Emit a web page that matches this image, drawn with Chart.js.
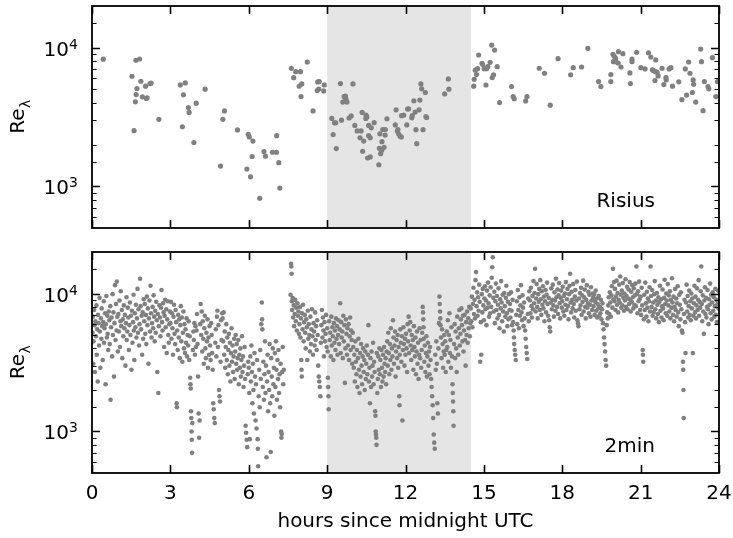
<!DOCTYPE html>
<html lang="en">
<head>
    <meta charset="UTF-8">
    <title>Re_lambda over the day</title>
    <script src="https://cdn.jsdelivr.net/npm/chart.js"></script>
    <style>
        body {
            margin: 0;
            background: #fff;
        }
        .panel {
            position: absolute;
            left: 0;
        }
        #topPanel { top: 0; }
        #bottomPanel { top: 240px; }
    </style>
</head>
<body>
    <div class="panel" id="topPanel"><canvas id="risiusChart" width="733" height="240"></canvas></div>
    <div class="panel" id="bottomPanel"><canvas id="twoMinChart" width="733" height="298"></canvas></div>

    <script>
        // [hour, Re_lambda] (Risius)
        const risiusPoints = [
            [0.43, 8260], [1.68, 8110], [1.82, 8290], [1.53, 6220], [1.87, 5730], [1.72, 5070], [2.05, 5280],
            [2.22, 5510], [2.26, 5550], [1.69, 4590], [1.93, 4420], [2.08, 4300], [2.11, 4350], [1.66, 4070],
            [2.56, 3040], [1.61, 2520], [3.38, 5390], [3.57, 5570], [3.50, 4570], [4.33, 5020], [3.69, 3700],
            [3.72, 3410], [3.99, 3980], [3.46, 2690], [3.90, 2070], [5.07, 3500], [5.01, 3040], [4.92, 1400],
            [5.57, 2550], [5.98, 2370], [6.02, 2270], [6.16, 2120], [6.13, 1640], [5.93, 1330], [6.07, 1170],
            [6.42, 820], [6.58, 1780], [6.64, 1650], [6.91, 1760], [7.06, 1760], [7.07, 2320], [7.15, 1480],
            [7.19, 970], [7.63, 7100], [7.72, 6080], [7.80, 6720], [7.98, 6720], [8.24, 7890], [7.93, 5280],
            [8.03, 5480], [8.00, 4440], [8.46, 3500], [8.64, 5660], [8.70, 5700], [8.89, 5390], [8.62, 4910],
            [8.68, 5030], [8.87, 4880],
            [9.51, 5510], [9.99, 5480], [9.65, 4440], [9.70, 4480], [9.72, 4250], [9.60, 4050], [9.76, 4050],
            [9.18, 3090], [9.28, 2870], [9.33, 2870], [9.55, 3000], [9.84, 3110], [9.92, 3220], [9.23, 2360],
            [9.35, 1870], [10.06, 2750], [10.15, 2510], [10.30, 2510], [10.34, 3410], [10.49, 3260], [10.48, 3090],
            [10.52, 3160], [10.59, 2750], [10.69, 2640], [10.80, 2880], [10.26, 2240], [10.40, 2120], [10.59, 2320],
            [10.65, 2240], [10.36, 1790], [10.55, 1600], [10.65, 1630], [10.98, 1430], [11.02, 2390], [11.22, 2340],
            [11.13, 2570], [11.23, 2570], [11.29, 3070], [11.64, 3560], [11.61, 2770], [11.10, 2100], [11.00, 1880],
            [11.09, 1820], [11.05, 1720], [11.18, 1910], [11.69, 2500], [11.74, 2380], [11.71, 2560], [11.80, 2290],
            [11.84, 2270], [12.08, 3610], [12.12, 3620], [11.85, 3230], [11.93, 3260], [12.05, 2770], [12.24, 3120],
            [12.26, 3230], [12.32, 4140], [12.37, 3430], [12.52, 3560], [12.55, 4190], [12.40, 2560], [12.67, 2560],
            [12.43, 2030], [12.59, 5480], [12.62, 5050], [12.76, 4750], [12.78, 3180], [12.81, 3130], [13.50, 4640],
            [13.64, 5950], [13.66, 5020],
            [14.61, 5280], [14.63, 5920], [14.72, 6400], [14.67, 6880], [14.76, 7060], [14.80, 8860], [14.93, 7720],
            [14.95, 7590], [15.01, 7060], [15.10, 7060], [15.15, 7300], [15.24, 7850], [15.30, 10450], [15.41, 9620],
            [15.37, 6370], [15.32, 6090], [15.51, 7300], [15.08, 5380], [15.60, 4020], [16.06, 5240], [16.12, 4440],
            [16.16, 4280], [16.60, 4130], [16.65, 4440], [17.12, 7110], [17.32, 6540], [17.54, 3850], [17.84, 8340],
            [18.32, 6370], [18.42, 7180], [18.74, 7260], [18.98, 9900], [19.39, 5700], [19.48, 5240], [19.86, 6400],
            [19.86, 5700], [19.94, 8970], [19.99, 8670], [20.04, 8390], [19.96, 7930], [20.04, 7930], [20.14, 7760],
            [20.15, 9360], [20.32, 9050], [20.25, 7260], [20.59, 6580], [20.61, 5510], [20.67, 8290], [20.67, 7930],
            [20.85, 9260], [21.01, 7180], [21.17, 7030], [21.30, 9200], [21.39, 8570], [21.58, 8160], [21.45, 6920],
            [21.51, 6810], [21.58, 6720], [21.63, 6650], [21.67, 6260], [21.55, 5790], [21.82, 7110], [21.97, 6090],
            [21.98, 5860], [21.89, 5420], [22.09, 7030], [22.16, 7180], [22.22, 5280], [22.46, 5670], [22.58, 4220],
            [22.76, 4550], [22.71, 7030], [22.84, 7890], [22.89, 6540], [23.01, 5860], [23.03, 5450], [22.98, 4750],
            [23.11, 4050], [23.30, 9790], [23.33, 7930], [23.39, 3510], [23.44, 5700], [23.58, 5240], [23.61, 5050],
            [23.75, 8470], [23.88, 4440], [23.94, 5700]
        ];

        // [hour, Re_lambda] (2min), estimated from the point cloud
        const twoMinPoints = [
            [0.02, 5200], [0.03, 6800], [0.05, 3100], [0.06, 4500], [0.08, 7600], [0.1, 5900], [0.11, 2700], [0.13, 6300],
            [0.15, 4900], [0.17, 8200], [0.18, 3600], [0.2, 5500], [0.22, 2300], [0.23, 7000], [0.25, 6100], [0.27, 4200],
            [0.29, 9300], [0.3, 5300], [0.32, 2900], [0.34, 6600], [0.36, 4700], [0.37, 7800], [0.39, 5800], [0.41, 3300],
            [0.43, 6200], [0.45, 8800], [0.46, 4400], [0.48, 5600], [0.5, 7200], [0.52, 2200], [0.53, 6000], [0.55, 9600],
            [0.57, 4800], [0.59, 6900], [0.6, 5100], [0.62, 3900], [0.64, 7400], [0.66, 6400], [0.68, 4300], [0.7, 8100],
            [0.71, 1700], [0.73, 5700], [0.75, 6700], [0.77, 3500], [0.79, 9900], [0.8, 5000], [0.82, 7300], [0.84, 2500],
            [0.86, 6100], [0.88, 11500], [0.9, 4600], [0.92, 8400], [0.94, 5400], [0.95, 12200], [0.97, 6800], [0.99, 3800],
            [1.01, 7100], [1.03, 5300], [1.05, 8900], [1.07, 4100], [1.09, 6300], [1.1, 10400], [1.12, 5800], [1.14, 7600],
            [1.16, 3400], [1.18, 6500], [1.2, 4900], [1.22, 8200], [1.24, 5600], [1.26, 7000], [1.28, 3000], [1.3, 6100],
            [1.32, 9400], [1.33, 4600], [1.35, 5300], [1.37, 7900], [1.39, 6700], [1.41, 3900], [1.43, 5900], [1.45, 8600],
            [1.47, 5000], [1.49, 6900], [1.51, 2800], [1.53, 7500], [1.55, 4400], [1.57, 6200], [1.59, 9800], [1.6, 5400],
            [1.62, 3300], [1.64, 7200], [1.66, 5700], [1.68, 8300], [1.7, 4800], [1.72, 6600], [1.74, 10800], [1.76, 5200],
            [1.78, 7700], [1.8, 4200], [1.82, 6000], [1.84, 12800], [1.86, 8100], [1.88, 5500], [1.9, 6900], [1.92, 3600],
            [1.94, 7300], [1.96, 4700], [1.98, 9100],
            [2.0, 6300], [2.02, 8400], [2.04, 5100], [2.06, 7000], [2.08, 4300], [2.1, 9500], [2.12, 5900], [2.14, 7800],
            [2.16, 3100], [2.18, 6600], [2.2, 8900], [2.22, 5300], [2.24, 11400], [2.26, 7200], [2.28, 4800], [2.3, 6100],
            [2.32, 8000], [2.34, 5600], [2.36, 9700], [2.38, 6800], [2.4, 4500], [2.42, 7500], [2.44, 5200], [2.46, 8700],
            [2.48, 6400], [2.5, 2700], [2.52, 7100], [2.54, 1900], [2.56, 5800], [2.58, 8200], [2.6, 6700], [2.62, 4900],
            [2.64, 7900], [2.66, 10600], [2.68, 6200], [2.7, 5400], [2.72, 8500], [2.74, 7300], [2.76, 4100], [2.78, 6900],
            [2.8, 9000], [2.82, 5700], [2.84, 7700], [2.86, 3700], [2.88, 6500], [2.9, 8800], [2.92, 5000], [2.94, 4400],
            [2.96, 6000], [2.98, 7400],
            [3.0, 6100], [3.02, 8700], [3.04, 4700], [3.06, 7200], [3.08, 5600], [3.1, 3600], [3.12, 6800], [3.14, 8300],
            [3.16, 5100], [3.18, 4300], [3.2, 7600], [3.22, 6200], [3.24, 1600], [3.25, 1500], [3.26, 5400], [3.28, 3900],
            [3.3, 7000], [3.32, 4800], [3.34, 6500], [3.36, 3400], [3.38, 5900], [3.4, 8100], [3.42, 4500], [3.44, 6700],
            [3.46, 3200], [3.48, 5200], [3.5, 7400], [3.52, 4000], [3.54, 6000], [3.56, 3700], [3.58, 5500], [3.6, 4400],
            [3.62, 6600], [3.64, 3500], [3.66, 5000], [3.68, 4200], [3.7, 6300], [3.72, 3300], [3.74, 4900], [3.76, 2450],
            [3.77, 2200], [3.78, 2050], [3.79, 1400], [3.8, 1250], [3.81, 1000], [3.82, 870], [3.83, 700], [3.84, 1150],
            [3.86, 3900], [3.88, 5300], [3.9, 4600], [3.92, 6100], [3.94, 3600], [3.96, 5800], [3.98, 4100],
            [4.0, 5400], [4.02, 7100], [4.04, 4300], [4.06, 2500], [4.08, 1350], [4.1, 900], [4.12, 1200], [4.14, 6000],
            [4.16, 8400], [4.18, 5000], [4.2, 7400], [4.22, 3800], [4.24, 6300], [4.26, 4700], [4.28, 3100], [4.3, 5600],
            [4.32, 6900], [4.34, 4000], [4.36, 3400], [4.38, 5200], [4.4, 4500], [4.42, 6500], [4.44, 2900], [4.46, 4800],
            [4.48, 3600], [4.5, 5800], [4.52, 4200], [4.54, 3300], [4.56, 6100], [4.58, 5000], [4.6, 3700], [4.62, 2800],
            [4.64, 1600], [4.66, 1450], [4.68, 1250], [4.7, 1150], [4.72, 4400], [4.74, 5500], [4.76, 3500], [4.78, 6800],
            [4.8, 7500], [4.82, 4100], [4.84, 5900], [4.86, 2000], [4.88, 1800], [4.9, 1650], [4.92, 3200], [4.94, 6400],
            [4.96, 4600], [4.98, 7200],
            [5.0, 6600], [5.02, 4500], [5.04, 7300], [5.06, 3600], [5.08, 5300], [5.1, 2900], [5.12, 4100], [5.14, 6000],
            [5.16, 3300], [5.18, 4800], [5.2, 2600], [5.22, 3900], [5.24, 5100], [5.26, 3000], [5.28, 4400], [5.3, 2300],
            [5.32, 3700], [5.34, 5600], [5.36, 3200], [5.38, 4200], [5.4, 2700], [5.42, 3500], [5.44, 4700], [5.46, 2400],
            [5.48, 3800], [5.5, 5000], [5.52, 3100], [5.54, 4300], [5.56, 2800], [5.58, 3400], [5.6, 4600], [5.62, 2200],
            [5.64, 3600], [5.66, 2900], [5.68, 4000], [5.7, 2500], [5.72, 3300], [5.74, 4900], [5.76, 2700], [5.78, 3500],
            [5.8, 2100], [5.82, 3000], [5.84, 4100], [5.86, 2400], [5.88, 1100], [5.9, 980], [5.92, 870], [5.94, 770],
            [5.96, 2600], [5.98, 3200],
            [6.0, 2900], [6.02, 1900], [6.04, 880], [6.06, 3500], [6.08, 2300], [6.1, 4200], [6.12, 2700], [6.14, 1600],
            [6.16, 3100], [6.18, 2000], [6.2, 1350], [6.22, 3700], [6.24, 2500], [6.26, 1200], [6.28, 2200], [6.3, 1050],
            [6.32, 3300], [6.34, 880], [6.35, 750], [6.36, 560], [6.38, 1800], [6.4, 2800], [6.42, 1500], [6.44, 3900],
            [6.46, 2400], [6.48, 6000], [6.5, 8600], [6.51, 6500], [6.52, 5500], [6.54, 2100], [6.56, 3200], [6.58, 1700],
            [6.6, 2600], [6.62, 4500], [6.64, 1900], [6.66, 3000], [6.68, 650], [6.7, 2300], [6.72, 3600], [6.74, 1400],
            [6.76, 2700], [6.78, 2000], [6.8, 4300], [6.82, 1600], [6.84, 710], [6.86, 3400], [6.88, 2500], [6.9, 1800],
            [6.92, 4000], [6.94, 2200], [6.96, 2900], [6.98, 1300],
            [7.0, 3700], [7.02, 2100], [7.04, 4500], [7.06, 2800], [7.08, 1700], [7.1, 3300], [7.12, 2400], [7.14, 3900],
            [7.16, 1900], [7.18, 2600], [7.2, 1500], [7.22, 3100], [7.24, 1000], [7.25, 900], [7.26, 960], [7.28, 2700],
            [7.3, 4100], [7.32, 2200], [7.34, 2800],
            [7.6, 9800], [7.62, 16400], [7.63, 15700], [7.64, 13900], [7.65, 8800], [7.66, 7600], [7.68, 9300], [7.7, 6700],
            [7.72, 8200], [7.74, 5800], [7.76, 7100], [7.78, 9000], [7.8, 6300], [7.82, 7900], [7.84, 5400], [7.86, 8500],
            [7.88, 6900], [7.9, 7400], [7.92, 5100], [7.94, 6000], [7.96, 8000], [7.98, 4800], [8.0, 6600], [8.01, 3300],
            [8.02, 2800], [8.03, 2500], [8.04, 7200], [8.06, 5500], [8.08, 8300], [8.1, 4500], [8.12, 6200], [8.14, 7000],
            [8.16, 5200], [8.18, 4000], [8.2, 6500], [8.22, 5700], [8.24, 3300], [8.26, 7500], [8.28, 4700], [8.3, 6000],
            [8.32, 5000], [8.34, 3800], [8.36, 6800], [8.38, 4300], [8.4, 5500], [8.42, 7700], [8.44, 4900], [8.46, 3600],
            [8.48, 6100], [8.5, 5300], [8.52, 4200], [8.54, 7300], [8.56, 4600], [8.58, 5800], [8.6, 3900], [8.62, 6400],
            [8.64, 5000], [8.66, 3000], [8.68, 2500], [8.7, 2300], [8.72, 2100], [8.74, 1800], [8.76, 4400], [8.78, 5900],
            [8.8, 7600], [8.82, 4800], [8.84, 6700], [8.86, 5400], [8.88, 3500], [8.9, 6200], [8.92, 4500], [8.94, 5100],
            [8.96, 7000], [8.98, 4100],
            [9.0, 5600], [9.02, 3800], [9.03, 2450], [9.04, 2100], [9.05, 1800], [9.06, 1450], [9.08, 6300], [9.1, 4600],
            [9.12, 5200], [9.14, 3500], [9.16, 6800], [9.18, 4200], [9.2, 5700], [9.22, 4900], [9.24, 3300], [9.26, 6100],
            [9.28, 4400], [9.3, 5400], [9.32, 3900], [9.34, 6600], [9.36, 4700], [9.38, 5800], [9.4, 3600], [9.42, 5000],
            [9.44, 6400], [9.46, 4300], [9.48, 5500], [9.5, 8500], [9.52, 3700], [9.54, 6200], [9.56, 4800], [9.58, 5300],
            [9.6, 3400], [9.62, 6900], [9.64, 4500], [9.66, 5900], [9.68, 2250], [9.7, 4000], [9.72, 6500], [9.74, 5100],
            [9.76, 3600], [9.78, 5600], [9.8, 4200], [9.82, 6000], [9.84, 3300], [9.86, 4900], [9.88, 6700], [9.9, 3900],
            [9.92, 5400], [9.94, 4600], [9.96, 3100], [9.98, 5200],
            [10.0, 4100], [10.02, 2900], [10.04, 3600], [10.06, 2300], [10.08, 4500], [10.1, 3200], [10.12, 2600], [10.14, 3900],
            [10.16, 2100], [10.18, 3400], [10.2, 4700], [10.22, 2800], [10.24, 1900], [10.26, 3700], [10.28, 2500], [10.3, 4300],
            [10.32, 3000], [10.34, 2200], [10.36, 3500], [10.38, 4000], [10.4, 2700], [10.42, 3300], [10.44, 2000], [10.46, 3800],
            [10.48, 2400], [10.5, 3100], [10.52, 4200], [10.54, 2600], [10.56, 3600], [10.58, 5900], [10.6, 2300], [10.62, 2900],
            [10.64, 1600], [10.66, 3400], [10.68, 2100], [10.7, 3800], [10.72, 2500], [10.74, 3000], [10.76, 4400], [10.78, 2200],
            [10.8, 3200], [10.82, 2700], [10.84, 1400], [10.85, 1300], [10.86, 1000], [10.87, 950], [10.88, 900], [10.89, 800],
            [10.9, 3700], [10.92, 1900], [10.94, 2400], [10.96, 3500], [10.98, 2800], [11.0, 4000], [11.02, 2600], [11.04, 3300],
            [11.06, 2100], [11.08, 3900], [11.1, 2900], [11.12, 2300], [11.14, 3600], [11.16, 2500], [11.18, 4100], [11.2, 3100],
            [11.22, 2700], [11.24, 3400], [11.26, 2200], [11.28, 3800],
            [11.3, 4500], [11.32, 3000], [11.34, 5200], [11.36, 3700], [11.38, 2600], [11.4, 4300], [11.42, 3300], [11.44, 5600],
            [11.46, 2800], [11.48, 4000], [11.5, 3500], [11.52, 6400], [11.54, 4800], [11.56, 3100], [11.58, 4200], [11.6, 5300],
            [11.62, 2500], [11.64, 3800], [11.66, 4600], [11.68, 3400], [11.7, 5000], [11.72, 2900], [11.74, 4100], [11.76, 1800],
            [11.77, 1550], [11.78, 3600], [11.8, 5500], [11.82, 4400], [11.84, 3200], [11.86, 4900], [11.88, 1200], [11.9, 3900],
            [11.92, 5700], [11.94, 4300], [11.96, 3000], [11.98, 4700], [12.0, 3600], [12.02, 5100], [12.04, 4000], [12.06, 2700],
            [12.08, 6000], [12.1, 4500], [12.12, 6800], [12.14, 3700], [12.16, 5400], [12.18, 6200], [12.2, 4200], [12.22, 3300],
            [12.24, 5000], [12.26, 3900], [12.28, 4600], [12.3, 2800], [12.32, 5800], [12.34, 4100], [12.36, 3500], [12.38, 4800],
            [12.4, 2600], [12.42, 3800], [12.44, 5300], [12.46, 3100], [12.48, 4400], [12.5, 2400], [12.52, 3600], [12.54, 5600],
            [12.56, 3400], [12.58, 4600], [12.6, 2900], [12.62, 3900], [12.64, 5200], [12.66, 8000], [12.67, 7300], [12.68, 6500],
            [12.69, 5700], [12.7, 4700], [12.72, 3200], [12.74, 4200], [12.76, 2700], [12.78, 3700], [12.8, 4900], [12.82, 2500],
            [12.84, 3500], [12.86, 4400], [12.88, 3000], [12.9, 3800], [12.92, 2600], [12.94, 4100], [12.96, 3300], [12.98, 2400],
            [13.0, 2100], [13.02, 1800], [13.04, 1550], [13.06, 1250], [13.08, 950], [13.1, 830], [13.12, 750], [13.14, 3600],
            [13.16, 2800], [13.18, 4500], [13.2, 3100], [13.22, 1600], [13.24, 1350], [13.26, 4000], [13.28, 6100], [13.3, 9500],
            [13.31, 8400], [13.32, 7400], [13.33, 6600], [13.34, 5900], [13.36, 4800], [13.38, 3400], [13.4, 5500], [13.42, 4300],
            [13.44, 2900], [13.46, 3800], [13.48, 5000], [13.5, 3600], [13.52, 4500], [13.54, 2700], [13.56, 3900], [13.58, 5300],
            [13.6, 4100], [13.62, 6400], [13.64, 3200], [13.66, 5000], [13.68, 7200], [13.7, 3700], [13.72, 4600], [13.74, 2900],
            [13.76, 5700], [13.78, 3500], [13.8, 2200], [13.81, 1900], [13.82, 1650], [13.83, 1400], [13.84, 1100], [13.86, 4300],
            [13.88, 6000], [13.9, 3400], [13.92, 5300], [13.94, 4000], [13.96, 2700], [13.98, 6800], [14.0, 4800], [14.02, 3600],
            [14.04, 5600], [14.06, 7600], [14.08, 4200], [14.1, 5100], [14.12, 6500], [14.14, 7800], [14.16, 5900], [14.18, 4500],
            [14.2, 6900], [14.22, 3800], [14.24, 5400], [14.26, 7000], [14.28, 4600], [14.3, 3000], [14.32, 6200], [14.34, 5000],
            [14.36, 7400], [14.38, 4400], [14.4, 6600], [14.42, 5600], [14.44, 8000], [14.46, 4900], [14.48, 6100],
            [14.5, 7800], [14.52, 6300], [14.54, 9500], [14.56, 5700], [14.58, 8400], [14.6, 11000], [14.62, 7100], [14.64, 9000],
            [14.66, 6600], [14.68, 12500], [14.7, 14300], [14.72, 8100], [14.74, 10200], [14.76, 6900], [14.78, 9400], [14.8, 7500],
            [14.82, 11600], [14.84, 8700], [14.86, 3200], [14.88, 6200], [14.9, 3600], [14.92, 9900], [14.94, 7300], [14.96, 10800],
            [14.98, 8200], [15.0, 6400], [15.02, 9200], [15.04, 11300], [15.06, 7700], [15.08, 8900], [15.1, 5900], [15.12, 10500],
            [15.14, 7900], [15.16, 12000], [15.18, 8500], [15.2, 6800], [15.22, 9700], [15.24, 7200], [15.26, 11100], [15.28, 8000],
            [15.3, 13000], [15.32, 15500], [15.34, 18300], [15.36, 9300], [15.38, 7400], [15.4, 10300], [15.42, 6100], [15.44, 8800],
            [15.46, 11800], [15.48, 7600], [15.5, 9600], [15.52, 6600], [15.54, 8300], [15.56, 10900], [15.58, 7000], [15.6, 5600],
            [15.62, 9100], [15.64, 7800], [15.66, 12300], [15.68, 8600], [15.7, 6300], [15.72, 9800], [15.74, 7400], [15.76, 5300],
            [15.78, 10100], [15.8, 8100], [15.82, 6800], [15.84, 9300], [15.86, 11400], [15.88, 7200], [15.9, 5800], [15.92, 8700],
            [15.94, 6500], [15.96, 9900], [15.98, 7600],
            [16.0, 8400], [16.02, 6700], [16.04, 10200], [16.06, 7500], [16.08, 5900], [16.1, 9000], [16.12, 6200], [16.14, 5400],
            [16.15, 4800], [16.16, 4300], [16.18, 3900], [16.2, 3600], [16.22, 3300], [16.24, 7000], [16.26, 8800], [16.28, 6000],
            [16.3, 10600], [16.32, 7600], [16.34, 5600], [16.36, 9400], [16.38, 6900], [16.4, 8200], [16.42, 11500], [16.44, 7300],
            [16.46, 6400], [16.48, 9700], [16.5, 7900], [16.52, 5800], [16.54, 8600], [16.56, 6600], [16.58, 5400], [16.6, 4700],
            [16.62, 4100], [16.64, 3700], [16.66, 3350], [16.68, 7100], [16.7, 9200], [16.72, 6300], [16.74, 10400],
            [16.76, 8900], [16.78, 7200], [16.8, 11000], [16.82, 8100], [16.84, 6700], [16.86, 9600], [16.88, 7700], [16.9, 12300],
            [16.92, 8500], [16.94, 10100], [16.96, 15100], [16.98, 7400], [17.0, 9200], [17.02, 11700], [17.04, 8000], [17.06, 6600],
            [17.08, 9900], [17.1, 8700], [17.12, 10800], [17.14, 7600], [17.16, 12500], [17.18, 9100], [17.2, 7000], [17.22, 10400],
            [17.24, 8300], [17.26, 11300], [17.28, 7800], [17.3, 9500], [17.32, 6300], [17.34, 8800], [17.36, 10600], [17.38, 7300],
            [17.4, 9800], [17.42, 12000], [17.44, 8400], [17.46, 6900], [17.48, 9300], [17.5, 6400], [17.52, 5700], [17.54, 5300],
            [17.56, 8600], [17.58, 10900], [17.6, 7700], [17.62, 9000], [17.64, 11600], [17.66, 8200], [17.68, 6800], [17.7, 10200],
            [17.72, 8900], [17.74, 7500], [17.76, 12800], [17.78, 9400], [17.8, 8000], [17.82, 10700], [17.84, 7100], [17.86, 9700],
            [17.88, 11900], [17.9, 8500], [17.92, 6600], [17.94, 9300], [17.96, 10500], [17.98, 7900], [18.0, 8800], [18.02, 11200],
            [18.04, 7400], [18.06, 9600], [18.08, 6900], [18.1, 10000], [18.12, 8300], [18.14, 12100], [18.16, 7600], [18.18, 9100],
            [18.2, 10800], [18.22, 8100], [18.24, 6500], [18.26, 9900], [18.28, 11400], [18.3, 13900], [18.32, 8600], [18.34, 7300],
            [18.36, 10300], [18.38, 9000], [18.4, 7800], [18.42, 11700], [18.44, 8400], [18.46, 6700], [18.48, 9500], [18.5, 10600],
            [18.52, 7500], [18.54, 8900], [18.56, 12200], [18.58, 6400], [18.6, 6100], [18.62, 5800], [18.64, 9200], [18.66, 7700],
            [18.68, 10100], [18.7, 8200], [18.72, 11000], [18.74, 7000], [18.76, 9700], [18.78, 8700], [18.8, 12400], [18.82, 7400],
            [18.84, 9400], [18.86, 10700], [18.88, 8000], [18.9, 6600], [18.92, 9000], [18.94, 11500], [18.96, 7900], [18.98, 8500],
            [19.0, 10300], [19.02, 7200], [19.04, 9800], [19.06, 8300], [19.08, 6800], [19.1, 11100], [19.12, 8900], [19.14, 7600],
            [19.16, 10000], [19.18, 9300],
            [19.2, 8100], [19.22, 9900], [19.24, 7000], [19.26, 8700], [19.28, 10500], [19.3, 7500], [19.32, 9200], [19.34, 6700],
            [19.36, 8400], [19.38, 7800], [19.4, 9600], [19.42, 6900], [19.44, 8000], [19.46, 7200], [19.48, 9000], [19.5, 6500],
            [19.52, 7700], [19.54, 8500], [19.56, 6100], [19.58, 5500], [19.6, 4800], [19.62, 4300], [19.64, 3800], [19.66, 3300],
            [19.68, 3000], [19.7, 5900], [19.72, 7300], [19.74, 6600], [19.76, 8200], [19.78, 9400], [19.8, 7100], [19.82, 10200],
            [19.84, 8600], [19.86, 6800], [19.88, 9700], [19.9, 11300], [19.92, 7900], [19.94, 15100], [19.96, 9100], [19.98, 12100],
            [20.0, 8800], [20.02, 10800], [20.04, 7600], [20.06, 9500], [20.08, 12400], [20.1, 8300], [20.12, 10100], [20.14, 7300],
            [20.16, 9000], [20.18, 11600], [20.2, 8600], [20.22, 13300], [20.24, 9800], [20.26, 7900], [20.28, 10500], [20.3, 8200],
            [20.32, 11900], [20.34, 9300], [20.36, 7500], [20.38, 10000], [20.4, 8900], [20.42, 12700], [20.44, 8000], [20.46, 9600],
            [20.48, 11200], [20.5, 7700], [20.52, 9200], [20.54, 10700], [20.56, 8400], [20.58, 12100], [20.6, 9000], [20.62, 7400],
            [20.64, 10300], [20.66, 8700], [20.68, 11500], [20.7, 9400], [20.72, 7800], [20.74, 10900], [20.76, 8300], [20.78, 9700],
            [20.8, 11800], [20.82, 8100], [20.84, 15700], [20.86, 9900], [20.88, 7200], [20.9, 10400], [20.92, 8800], [20.94, 12200],
            [20.96, 9100], [20.98, 7600],
            [21.0, 9500], [21.02, 7000], [21.04, 11000], [21.06, 8200], [21.08, 3900], [21.09, 3600], [21.1, 3200], [21.12, 6500],
            [21.14, 9800], [21.16, 7600], [21.18, 12000], [21.2, 8500], [21.22, 6800], [21.24, 10300], [21.26, 7900], [21.28, 9200],
            [21.3, 6300], [21.32, 8800], [21.34, 11100], [21.36, 7400], [21.38, 15700], [21.4, 9600], [21.42, 8000], [21.44, 10600],
            [21.46, 6900], [21.48, 8600], [21.5, 7300], [21.52, 9900], [21.54, 12300], [21.56, 7700], [21.58, 8900], [21.6, 6600],
            [21.62, 10100], [21.64, 8300], [21.66, 7100], [21.68, 9400], [21.7, 6200], [21.72, 8700], [21.74, 11400], [21.76, 7500],
            [21.78, 9100], [21.8, 6700], [21.82, 8100], [21.84, 10700], [21.86, 7800], [21.88, 6400], [21.9, 9300], [21.92, 12600],
            [21.94, 8400], [21.96, 7200], [21.98, 10000], [22.0, 8900], [22.02, 6900], [22.04, 11700], [22.06, 8200], [22.08, 9700],
            [22.1, 7400], [22.12, 10400], [22.14, 6600], [22.16, 9000], [22.18, 7900], [22.2, 12900], [22.22, 8600], [22.24, 7000],
            [22.26, 9500], [22.28, 6300], [22.3, 8000], [22.32, 10800], [22.34, 7600], [22.36, 9200], [22.38, 6800], [22.4, 8500],
            [22.42, 11300], [22.44, 7300], [22.46, 5800], [22.48, 9800],
            [22.5, 8300], [22.52, 6500], [22.54, 10200], [22.56, 7700], [22.58, 5400], [22.6, 5200], [22.62, 3200], [22.63, 2800],
            [22.64, 2000], [22.65, 1250], [22.66, 7100], [22.68, 9000], [22.7, 6200], [22.72, 3700], [22.74, 8600], [22.76, 11600],
            [22.78, 7400], [22.8, 9600], [22.82, 6700], [22.84, 8100], [22.86, 10500], [22.88, 7000],
            [22.9, 8800], [22.92, 6400], [22.94, 10000], [22.96, 7800], [22.98, 9200], [23.0, 3700], [23.02, 6900], [23.04, 8500],
            [23.06, 11400], [23.08, 7300], [23.1, 9500], [23.12, 6600], [23.14, 8200], [23.16, 10900], [23.18, 7600], [23.2, 9000],
            [23.22, 12500], [23.24, 6900], [23.26, 8700], [23.28, 7900], [23.3, 10400], [23.32, 15700], [23.34, 8400], [23.36, 6300],
            [23.38, 9700], [23.4, 7400], [23.42, 5100], [23.44, 8900], [23.46, 11100], [23.48, 7100], [23.5, 9300], [23.52, 6700],
            [23.54, 8000], [23.56, 10600], [23.58, 7700], [23.6, 6000], [23.62, 9100], [23.64, 8300], [23.66, 11800], [23.68, 7200],
            [23.7, 9800], [23.72, 6500], [23.74, 8600], [23.76, 10200], [23.78, 7500], [23.8, 9400], [23.82, 6800], [23.84, 8100],
            [23.86, 10800], [23.88, 7000], [23.9, 9000], [23.92, 6200], [23.94, 8400], [23.96, 10500], [23.98, 7800]
        ];

        const hourTicks = [0, 3, 6, 9, 12, 15, 18, 21, 24];
        const shadedHours = [9, 14.5];
        const reRange = [500, 20000];
        const panelLabels = ['Risius', '2min'];

        const FONT = 'DejaVu Sans';

        function isDecade(v) {
            const e = Math.log10(v);
            return Math.abs(e - Math.round(e)) < 1e-6;
        }

        // grey band, inward ticks, box, 10^n labels, y title and panel label
        const decorPlugin = {
            id: 'decor',
            beforeDatasetsDraw(chart) {
                const { ctx, chartArea: a, scales: { x } } = chart;
                ctx.save();
                ctx.fillStyle = '#e5e5e5';
                const x0 = x.getPixelForValue(shadedHours[0]);
                const x1 = x.getPixelForValue(shadedHours[1]);
                ctx.fillRect(x0, a.top, x1 - x0, a.bottom - a.top);
                ctx.restore();
            },
            afterDraw(chart, args, opts) {
                const { ctx, chartArea: a, scales: { x, y } } = chart;
                ctx.save();
                ctx.strokeStyle = '#000';
                ctx.fillStyle = '#000';
                ctx.lineCap = 'butt';

                ctx.lineWidth = 1.6;
                ctx.beginPath();
                hourTicks.forEach(h => {
                    const px = Math.round(x.getPixelForValue(h)) + 0.5;
                    ctx.moveTo(px, a.bottom); ctx.lineTo(px, a.bottom - 8);
                    ctx.moveTo(px, a.top); ctx.lineTo(px, a.top + 8);
                });
                ctx.stroke();

                y.ticks.forEach(t => {
                    if (t.value <= reRange[0] || t.value >= reRange[1]) return;
                    const py = Math.round(y.getPixelForValue(t.value)) + 0.5;
                    const major = isDecade(t.value);
                    const len = major ? 8 : 4.5;
                    ctx.lineWidth = major ? 1.6 : 1.2;
                    ctx.beginPath();
                    ctx.moveTo(a.left, py); ctx.lineTo(a.left + len, py);
                    ctx.moveTo(a.right, py); ctx.lineTo(a.right - len, py);
                    ctx.stroke();
                    if (major) {
                        const exp = String(Math.round(Math.log10(t.value)));
                        ctx.textBaseline = 'alphabetic';
                        ctx.font = '20px "' + FONT + '"';
                        ctx.textAlign = 'right';
                        ctx.fillText('10', a.left - 23, py + 7.5);
                        ctx.font = '14px "' + FONT + '"';
                        ctx.textAlign = 'left';
                        ctx.fillText(exp, a.left - 23, py + 0.5);
                    }
                });

                ctx.lineWidth = 1.8;
                ctx.strokeRect(a.left, a.top, a.right - a.left, a.bottom - a.top);

                // y title: Re with subscript lambda
                ctx.translate(24, (a.top + a.bottom) / 2);
                ctx.rotate(-Math.PI / 2);
                ctx.font = '20px "' + FONT + '"';
                const wRe = ctx.measureText('Re').width;
                ctx.font = '14px "' + FONT + '"';
                const wLam = ctx.measureText('\u03bb').width;
                const start = -(wRe + wLam) / 2;
                ctx.textBaseline = 'alphabetic';
                ctx.textAlign = 'left';
                ctx.font = '20px "' + FONT + '"';
                ctx.fillText('Re', start, 0);
                ctx.font = '14px "' + FONT + '"';
                ctx.fillText('\u03bb', start + wRe + 0.5, 6);
                ctx.setTransform(1, 0, 0, 1, 0, 0);

                // panel label
                ctx.font = '20px "' + FONT + '"';
                ctx.textAlign = 'right';
                ctx.fillText(opts.label, 655, opts.labelY);
                ctx.restore();
            }
        };

        function makeChart(canvasId, points, radius, label, labelY, padTop, xHeight, showX) {
            return new Chart(document.getElementById(canvasId), {
                type: 'scatter',
                data: {
                    datasets: [{
                        data: points.map(p => ({ x: p[0], y: p[1] })),
                        backgroundColor: '#808080',
                        borderWidth: 0,
                        pointRadius: radius,
                        pointHoverRadius: radius
                    }]
                },
                options: {
                    responsive: false,
                    animation: false,
                    events: [],
                    layout: { padding: { top: padTop, right: 14, bottom: 0, left: 0 } },
                    plugins: {
                        legend: { display: false },
                        tooltip: { enabled: false },
                        decor: { label: label, labelY: labelY }
                    },
                    scales: {
                        x: {
                            type: 'linear',
                            min: 0,
                            max: 24,
                            grid: { display: false, drawTicks: false },
                            border: { display: false },
                            ticks: {
                                display: showX,
                                stepSize: 3,
                                color: '#000',
                                padding: 9,
                                font: { family: FONT, size: 20 }
                            },
                            title: {
                                display: showX,
                                text: 'hours since midnight UTC',
                                color: '#000',
                                font: { family: FONT, size: 20 },
                                padding: { top: 0, bottom: 4 }
                            },
                            afterFit(s) {
                                s.height = xHeight;
                                s.paddingLeft = 0;
                                s.paddingRight = 0;
                            }
                        },
                        y: {
                            type: 'logarithmic',
                            min: reRange[0],
                            max: reRange[1],
                            grid: { display: false, drawTicks: false },
                            border: { display: false },
                            ticks: { display: false, autoSkip: false },
                            afterFit(s) {
                                s.width = 92;
                                s.paddingTop = 0;
                                s.paddingBottom = 0;
                            }
                        }
                    }
                },
                plugins: [decorPlugin]
            });
        }

        makeChart('risiusChart', risiusPoints, 2.6, panelLabels[0], 207, 6, 12, false);
        makeChart('twoMinChart', twoMinPoints, 2.3, panelLabels[1], 212, 12, 65, true);
    </script>
</body>
</html>
